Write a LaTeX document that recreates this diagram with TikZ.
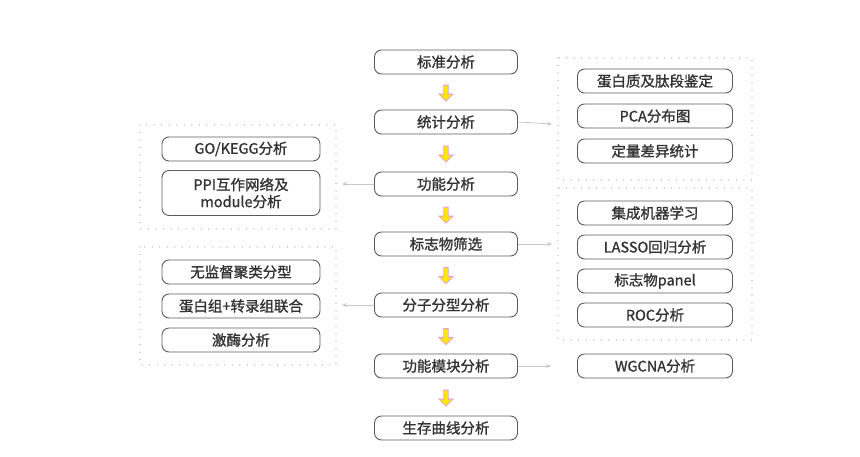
\documentclass[tikz,border=0pt]{standalone}
\usepackage{fontspec}
\setmainfont{Noto Sans CJK SC}[FakeBold=1.2]
\usetikzlibrary{shapes.arrows,arrows.meta,calc}
\definecolor{boxline}{HTML}{5A5A5A}
\definecolor{txt}{HTML}{333333}
\definecolor{dotc}{HTML}{C4C4C4}
\definecolor{conn}{HTML}{C8C8C8}
\definecolor{yarrow}{HTML}{FFE800}
\definecolor{parrow}{HTML}{E49CE0}
\tikzset{
  stepbox/.style={draw=boxline, line width=0.9pt, rounded corners=7pt, minimum width=143pt, minimum height=24pt, inner sep=0pt, font=\fontsize{14.5}{17}\selectfont, text=txt, align=center},
  subbox/.style={stepbox, minimum width=155pt},
  lbox/.style={stepbox, minimum width=158pt},
  group/.style={draw=dotc, line width=1.3pt, dash pattern=on 0.01pt off 7.5pt, line cap=round},
  yel/.style={single arrow, draw=parrow, fill=yarrow, line width=0.8pt, shape border rotate=270, minimum width=14pt, single arrow head extend=3.5pt, single arrow tip angle=90, minimum height=16pt, inner sep=1.2pt},
  gconn/.style={draw=conn, line width=0.8pt, -{Stealth[length=5pt,width=4pt]}}
}
\begin{document}
\begin{tikzpicture}[x=1pt,y=-1pt]
\useasboundingbox (0,0) rectangle (860,456);
% main column
\node[stepbox] (s1) at (446,62) {标准分析};
\node[stepbox] (s2) at (446,122) {统计分析};
\node[stepbox] (s3) at (446,184) {功能分析};
\node[stepbox] (s4) at (446,244) {标志物筛选};
\node[stepbox] (s5) at (446,305) {分子分型分析};
\node[stepbox] (s6) at (446,366) {功能模块分析};
\node[stepbox] (s7) at (446,428) {生存曲线分析};
% yellow arrows
\foreach \a/\b in {s1/s2,s2/s3,s3/s4,s4/s5,s5/s6,s6/s7}{
  \node[yel] (ya\a) at ($(\a.south)!0.5!(\b.north)$) {};
}
% right group 1
\draw[group] (558,58) rectangle (752,180);
\node[subbox] (r1) at (655,81) {蛋白质及肽段鉴定};
\node[subbox] (r2) at (655,116) {PCA分布图};
\node[subbox] (r3) at (655,151) {定量差异统计};
\coordinate (g1) at (552,124);
% right group 2
\draw[group] (558,188) rectangle (752,340);
\node[subbox] (r4) at (655,213) {集成机器学习};
\node[subbox] (r5) at (655,247) {LASSO回归分析};
\node[subbox] (r6) at (655,281) {标志物panel};
\node[subbox] (r7) at (655,315) {ROC分析};
\coordinate (g2) at (552,244);
\node[subbox] (r8) at (655,366) {WGCNA分析};
% left group 1
\draw[group] (140,125) rectangle (336,229);
\node[lbox] (l1) at (241,149) {GO/KEGG分析};
\node[lbox, minimum height=45pt] (l2) at (241,193) {PPI互作网络及\\module分析};
\coordinate (g3) at (342,184);
% left group 2
\draw[group] (140,247) rectangle (336,365);
\node[lbox] (l3) at (241,272) {无监督聚类分型};
\node[lbox] (l4) at (241,306) {蛋白组+转录组联合};
\node[lbox] (l5) at (241,340) {激酶分析};
\coordinate (g4) at (342,305);
% grey connectors
\draw[gconn] (s2.east) -- (g1);
\draw[gconn] (s3.west) -- (g3);
\draw[gconn] (s4.east) -- (g2);
\draw[gconn] (s5.west) -- (g4);
\draw[gconn] (s6.east) -- ($(r8.west)+(-26,0)$);
\end{tikzpicture}
\end{document}
